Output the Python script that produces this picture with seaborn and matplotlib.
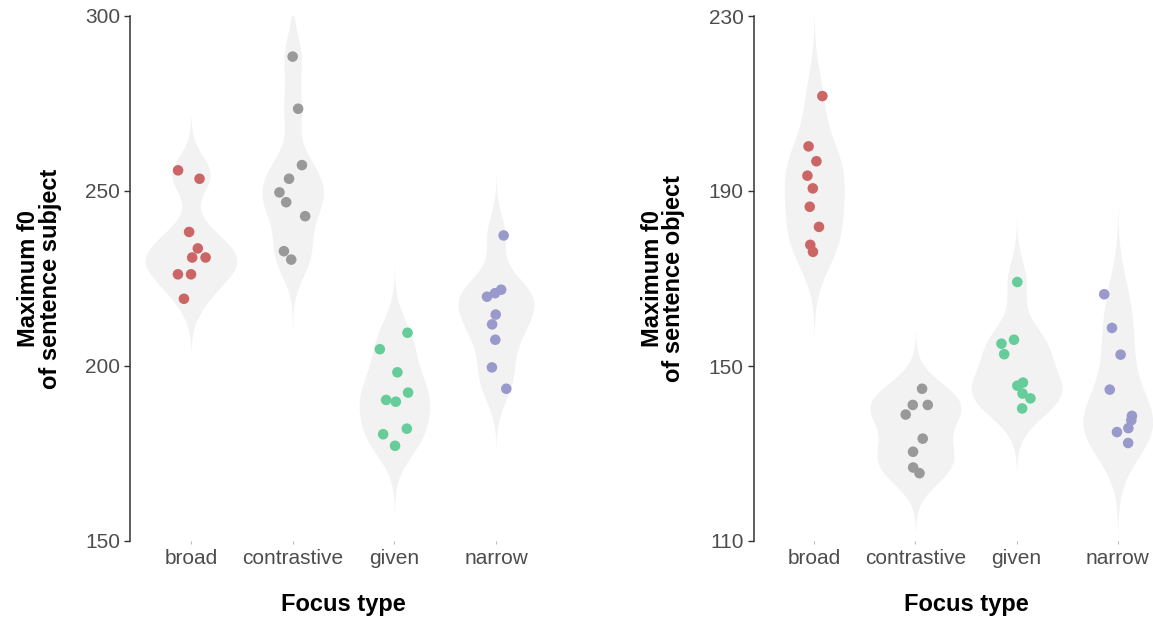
import numpy as np
import pandas as pd
import matplotlib
matplotlib.use("Agg")
import matplotlib.pyplot as plt
import seaborn as sns

# Focus-type categories and their point colours
categories = ["broad", "contrastive", "given", "narrow"]
palette = ["#CC6666", "#999999", "#66CC99", "#9999CC"]

# Maximum f0 (Hz) of the sentence subject, per focus type
subj_broad = [255.9, 253.5, 238.3, 233.6, 231.0, 231.0, 226.2, 226.2, 219.2]
subj_contrastive = [288.4, 273.5, 257.4, 253.5, 249.6, 246.8, 242.8, 232.8, 230.4]
subj_given = [209.5, 204.8, 198.2, 192.4, 190.3, 189.8, 182.1, 180.5, 177.2]
subj_narrow = [237.3, 221.8, 220.8, 219.8, 214.7, 211.9, 207.5, 199.6, 193.5]

# Maximum f0 (Hz) of the sentence object, per focus type
obj_broad = [211.7, 200.2, 196.8, 193.5, 190.6, 186.4, 181.8, 177.7, 176.1]
obj_contrastive = [144.8, 141.1, 141.1, 138.9, 133.4, 130.4, 126.8, 125.5]
obj_given = [169.2, 156.0, 155.1, 152.7, 146.2, 145.5, 143.7, 142.6, 140.3]
obj_narrow = [166.4, 158.7, 152.6, 144.6, 138.6, 137.6, 135.8, 134.9, 132.4]

subj_ticks = [150, 200, 250, 300]
obj_ticks = [110, 150, 190, 230]


def long_frame(groups):
    rows = []
    for cat, vals in zip(categories, groups):
        rows += [(cat, v) for v in vals]
    return pd.DataFrame(rows, columns=["focus", "f0"])


def nrd0(kde):
    # Silverman's rule of thumb (R's bw.nrd0), expressed as a factor of the sd
    x = kde.dataset.ravel()
    sd = x.std(ddof=1)
    q75, q25 = np.percentile(x, [75, 25])
    h = 0.9 * min(sd, (q75 - q25) / 1.34) * len(x) ** -0.2
    return h / sd


subject = long_frame([subj_broad, subj_contrastive, subj_given, subj_narrow])
obj = long_frame([obj_broad, obj_contrastive, obj_given, obj_narrow])

sns.set_theme(style="white")
plt.rcParams["font.family"] = ["Liberation Sans", "DejaVu Sans"]

W, H = 1153, 619
fig = plt.figure(figsize=(W / 100, H / 100), dpi=100)
ax1 = fig.add_axes([130 / W, (H - 541) / H, 427 / W, 525 / H])
ax2 = fig.add_axes([753.5 / W, (H - 541) / H, 425 / W, 525 / H])

np.random.seed(7)
panels = [
    (ax1, subject, subj_ticks, "Maximum f0\nof sentence subject"),
    (ax2, obj, obj_ticks, "Maximum f0\nof sentence object"),
]
for ax, df, ticks, ylabel in panels:
    sns.violinplot(data=df, x="focus", y="f0", order=categories, ax=ax,
                   color="#F2F2F2", saturation=1, linewidth=0, inner=None,
                   cut=3, bw_method=nrd0, density_norm="area", width=0.9)
    sns.stripplot(data=df, x="focus", y="f0", order=categories, hue="focus",
                  hue_order=categories, palette=palette, ax=ax, jitter=0.15,
                  size=7.6, linewidth=0, legend=False, zorder=3)
    ax.set_xlim(-0.6, 3.6)
    ax.set_ylim(ticks[0], ticks[-1])
    ax.set_yticks(ticks)
    for side in ("top", "right", "bottom"):
        ax.spines[side].set_visible(False)
    ax.spines["left"].set_color("#333333")
    ax.spines["left"].set_linewidth(1.1)
    ax.tick_params(axis="y", left=True, length=4, width=1.0, color="#333333",
                   pad=3, labelsize=15, labelcolor="#4D4D4D")
    ax.tick_params(axis="x", bottom=True, length=2, width=0.8, color="#BBBBBB",
                   pad=4, labelsize=15, labelcolor="#4D4D4D")
    ax.set_xlabel("Focus type", fontsize=17, fontweight="bold",
                  color="black", labelpad=18)
    ax.set_ylabel(ylabel, fontsize=17, fontweight="bold", color="black",
                  labelpad=17, linespacing=0.92)
    ax.grid(False)

fig.savefig("out.png", dpi=100)
